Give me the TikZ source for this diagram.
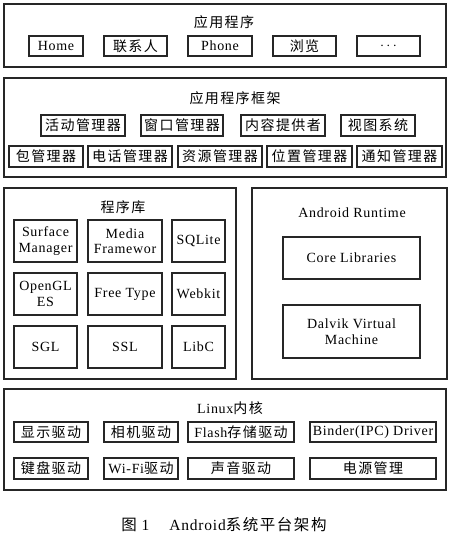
\documentclass[tikz,border=0pt]{standalone}
\usepackage{fontspec}
\setmainfont{Liberation Serif}[LetterSpace=5]
\newfontfamily\cjk{Noto Sans CJK SC}[LetterSpace=10]
\newcommand\zh[1]{{\cjk #1}}
\tikzset{
  outer/.style={draw=black!85, line width=1.5pt, inner sep=0pt},
  bx/.style={draw=black!85, line width=1.3pt, inner sep=0pt, align=center,
    font=\fontsize{14}{15.5}\selectfont},
  ttl/.style={inner sep=0pt, font=\fontsize{14}{16}\selectfont},
}
\newcommand\bx[7][bx]{\node[#1, minimum width={#5-#3}, minimum height={#6-#4}] (#2) at ({(#3+#5)/2},{(#4+#6)/2}) {#7};}
\begin{document}
\begin{tikzpicture}[x=1pt,y=-1pt]
\useasboundingbox (0,0) rectangle (456,536);
\fill[white] (0,0) rectangle (456,536);
% applications
\bx[outer]{app}{4}{4}{446}{67}{}
\node[ttl] (appt) at (224,22) {\zh{应用程序}};
\bx{home}{29}{36}{83}{56}{Home}
\bx{contacts}{104}{36}{167}{56}{\zh{联系人}}
\bx{phone}{188}{36}{252}{56}{Phone}
\bx{browse}{273}{36}{336}{56}{\zh{浏览}}
\bx{more}{357}{36}{420}{56}{$\cdots$}
% framework
\bx[outer]{fw}{4}{78}{446}{177}{}
\node[ttl] (fwt) at (235,98) {\zh{应用程序框架}};
\bx{act}{41}{115}{125}{136}{\zh{活动管理器}}
\bx{win}{141}{115}{223}{136}{\zh{窗口管理器}}
\bx{cp}{241}{115}{325}{136}{\zh{内容提供者}}
\bx{view}{341}{115}{415}{136}{\zh{视图系统}}
\bx{pkg}{9}{146}{83}{167}{\zh{包管理器}}
\bx{tel}{88}{146}{172}{167}{\zh{电话管理器}}
\bx{res}{178}{146}{262}{167}{\zh{资源管理器}}
\bx{loc}{267}{146}{352}{167}{\zh{位置管理器}}
\bx{noti}{357}{146}{442}{167}{\zh{通知管理器}}
% libraries
\bx[outer]{lib}{4}{188}{236}{379}{}
\node[ttl] (libt) at (123,207) {\zh{程序库}};
\bx{surf}{14}{220}{77}{262}{Surface\\Manager}
\bx{media}{88}{220}{162}{262}{Media\\Framewor}
\bx{sqlite}{172}{220}{225}{262}{SQLite}
\bx{opengl}{14}{273}{77}{315}{OpenGL\\ES}
\bx{ftype}{88}{273}{162}{315}{Free Type}
\bx{webkit}{172}{273}{225}{315}{Webkit}
\bx{sgl}{14}{326}{77}{368}{SGL}
\bx{ssl}{88}{326}{162}{368}{SSL}
\bx{libc}{172}{326}{225}{368}{LibC}
% runtime
\bx[outer]{rt}{252}{188}{447}{379}{}
\node[ttl] (rtt) at (352,213) {Android Runtime};
\bx{core}{283}{237}{420}{279}{Core Libraries}
\bx{dalvik}{283}{305}{420}{358}{Dalvik Virtual\\Machine}
% kernel
\bx[outer]{kern}{4}{389}{446}{490}{}
\node[ttl] (kernt) at (230,408) {Linux\zh{内核}};
\bx{disp}{14}{422}{88}{442}{\zh{显示驱动}}
\bx{cam}{104}{422}{178}{442}{\zh{相机驱动}}
\bx{flash}{188}{422}{294}{442}{Flash\zh{存储驱动}}
\bx{binder}{310}{422}{436}{442}{Binder(IPC) Driver}
\bx{kbd}{14}{458}{88}{479}{\zh{键盘驱动}}
\bx{wifi}{104}{458}{178}{479}{Wi-Fi\zh{驱动}}
\bx{audio}{188}{458}{294}{479}{\zh{声音驱动}}
\bx{power}{310}{458}{436}{479}{\zh{电源管理}}
% caption
\node[inner sep=0pt, font=\fontsize{15.5}{18}\selectfont] (cap) at (224,525) {\zh{图} 1\quad\ Android\zh{系统平台架构}};
\end{tikzpicture}
\end{document}
